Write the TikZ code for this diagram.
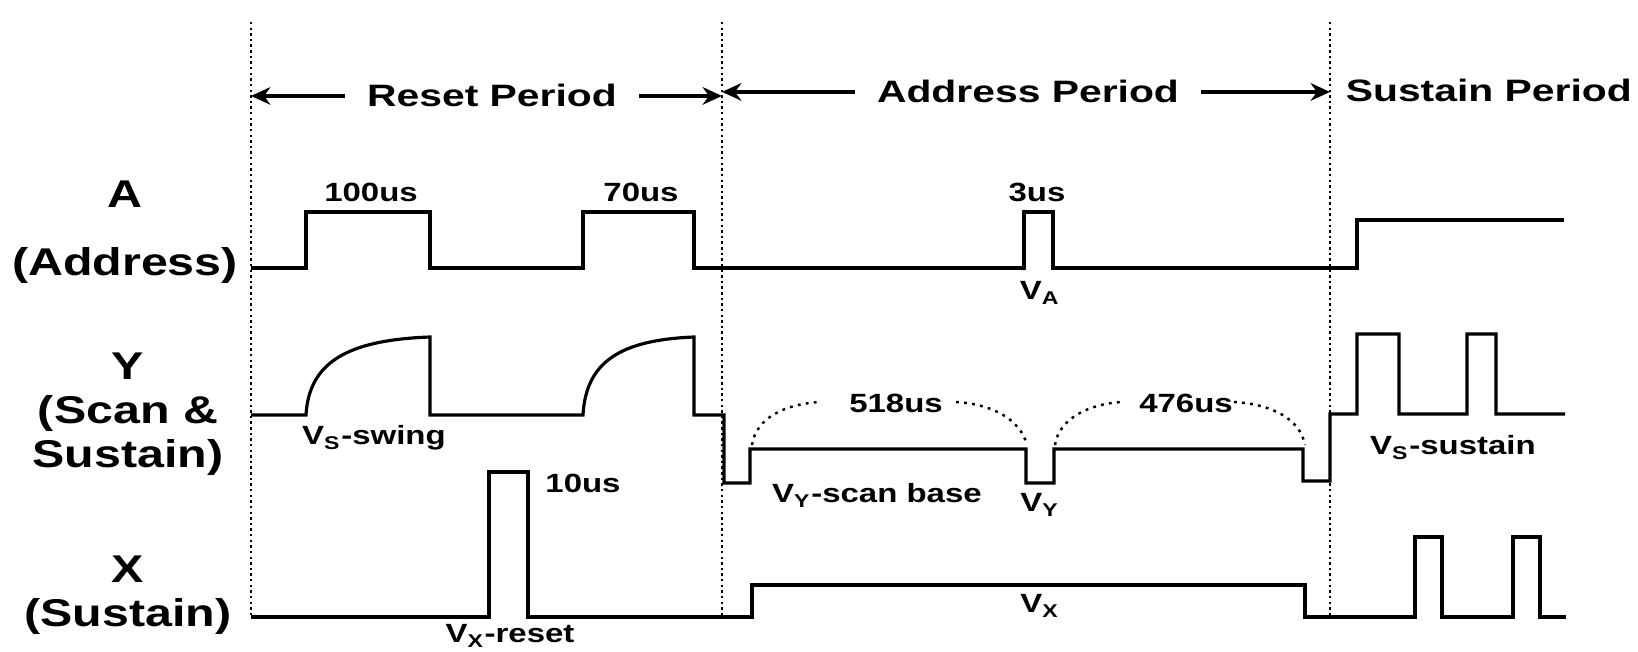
\documentclass[tikz,border=0pt]{standalone}
\usepackage{fontspec}
\setmainfont{Liberation Sans}[FakeStretch=1.25]
\newfontfamily\periodfont{Liberation Sans}[FakeStretch=1.32]
\usetikzlibrary{arrows.meta, positioning}

\tikzset{
  wave/.style={line width=0.9pt, line join=miter},
  guide/.style={line width=0.8pt, dash pattern=on 0.7pt off 0.9pt},
  gap/.style={line width=0.7pt, dash pattern=on 0.8pt off 1.5pt},
  arr/.style={-{Stealth[length=5.5pt, width=5pt]}, line width=1.2pt},
  rowlab/.style={font=\bfseries\fontsize{11}{12.5}\selectfont, align=center,
                 inner sep=0pt, anchor=north},
  lab/.style={font=\bfseries\fontsize{7.5}{9}\selectfont, inner sep=1pt, anchor=base},
  period/.style={font=\periodfont\bfseries\fontsize{8.8}{10}\selectfont,
                 inner xsep=6pt, anchor=base},
}

\begin{document}
\begin{tikzpicture}[x=0.01cm, y=-0.01cm]
  \useasboundingbox (0,0) rectangle (1638,652);

  % period borders
  \foreach \gx/\gn in {251/1, 722/2, 1330/3} {
    \coordinate (g\gn) at (\gx,22);
    \draw[guide] (g\gn) -- (\gx,618);
  }

  % period labels
  \node[period] (reset) at (492,107) {Reset Period};
  \node[period] (address) at (1028,103) {Address Period};
  \node[period, anchor=base west] (sustain) at (1324,102) {Sustain Period};

  \draw[arr] (reset.west) -- (reset.west -| g1);
  \draw[arr] (reset.east) -- (reset.east -| g2);
  \draw[arr] (address.west) -- (address.west -| g2);
  \draw[arr] (address.east) -- (address.east -| g3);

  % row labels
  \node[rowlab] (labA) at (125,180) {A\\[7pt](Address)};
  \node[rowlab] (labY) at (128,352) {Y\\(Scan \&\\Sustain)};
  \node[rowlab] (labX) at (128,555) {X\\(Sustain)};

  % A waveform
  \draw[wave] (251,268) -- (306,268) -- (306,212) -- (430,212) -- (430,268)
    -- (583,268) -- (583,212) -- (694,212) -- (694,268)
    -- (1024,268) -- (1024,212) -- (1053,212) -- (1053,268)
    -- (1357,268) -- (1357,220) -- (1564,220);

  % Y waveform
  \draw[wave] (251,415) -- (306,415)
    .. controls (309,362) and (348,340) .. (430,337) -- (430,415)
    -- (583,415) .. controls (586,362) and (620,340) .. (694,337) -- (694,415)
    -- (724,415) -- (724,483) -- (750,483) -- (750,449)
    -- (1026,449) -- (1026,483) -- (1054,483) -- (1054,449)
    -- (1303,449) -- (1303,481) -- (1330,481) -- (1330,414)
    -- (1357,414) -- (1357,334) -- (1399,334) -- (1399,414)
    -- (1467,414) -- (1467,334) -- (1496,334) -- (1496,414) -- (1565,414);

  % X waveform
  \draw[wave] (251,617) -- (489,617) -- (489,472) -- (528,472) -- (528,617)
    -- (752,617) -- (752,585) -- (1305,585) -- (1305,617)
    -- (1415,617) -- (1415,537) -- (1442,537) -- (1442,617)
    -- (1513,617) -- (1513,537) -- (1540,537) -- (1540,617) -- (1566,617);

  % scan gaps
  \coordinate (s1a) at (752,445);
  \coordinate (s1b) at (820,402);
  \coordinate (s2a) at (956,402);
  \coordinate (s2b) at (1027,445);
  \coordinate (s3a) at (1055,445);
  \coordinate (s3b) at (1121,402);
  \coordinate (s4a) at (1234,402);
  \coordinate (s4b) at (1305,445);
  \draw[gap] (s1a) .. controls (756,418) and (785,404) .. (s1b);
  \draw[gap] (s2a) .. controls (990,404) and (1020,418) .. (s2b);
  \draw[gap] (s3a) .. controls (1059,418) and (1090,404) .. (s3b);
  \draw[gap] (s4a) .. controls (1270,404) and (1300,418) .. (s4b);

  % timing and level labels
  \node[lab] (t100) at (371,202) {100us};
  \node[lab] (t70) at (641,202) {70us};
  \node[lab] (t3) at (1037,202) {3us};
  \node[lab] (va) at (1040,300) {V\textsubscript{A}};
  \node[lab] (vsswing) at (374,445) {V\textsubscript{S}-swing};
  \node[lab] (t10) at (583,493) {10us};
  \node[lab] (vxreset) at (510,643) {V\textsubscript{X}-reset};
  \node[lab] (t518) at (896,413) {518us};
  \node[lab] (t476) at (1186,413) {476us};
  \node[lab] (vyscan) at (877,503) {V\textsubscript{Y}-scan base};
  \node[lab] (vy) at (1040,512) {V\textsubscript{Y}};
  \node[lab] (vx) at (1040,613) {V\textsubscript{X}};
  \node[lab] (vssus) at (1453,455) {V\textsubscript{S}-sustain};
\end{tikzpicture}
\end{document}
